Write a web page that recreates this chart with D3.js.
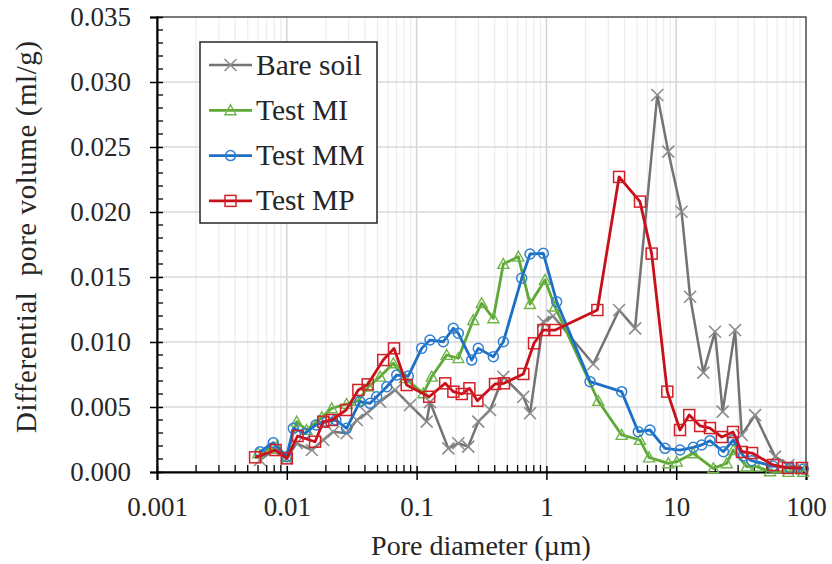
<!DOCTYPE html>
<html>
<head>
<meta charset="utf-8">
<script src="https://cdn.jsdelivr.net/npm/d3@7"></script>
<style>
  body { margin: 0; background: #fff; }
</style>
</head>
<body>
<svg id="chart" width="832" height="564"></svg>
<script>
// pore diameter (um) / differential pore volume (ml/g)
const bareDiam = [0.00622, 0.00787, 0.00998, 0.0119, 0.0156, 0.0191, 0.0228, 0.0289, 0.0346, 0.0413, 0.0523, 0.0682, 0.0890, 0.1196, 0.1268, 0.1756, 0.2096, 0.250, 0.2987, 0.368, 0.466, 0.664, 0.748, 0.947, 1.124, 2.30, 3.63, 4.82, 7.15, 8.69, 11.0, 12.8, 16.2, 19.9, 22.8, 28.4, 32.0, 40.5, 57.7, 73.1, 92.7];
const bareVol = [0.00092, 0.00169, 0.00105, 0.00221, 0.00169, 0.00246, 0.0031, 0.00298, 0.0040, 0.00452, 0.00541, 0.00631, 0.00515, 0.00387, 0.00538, 0.00182, 0.00221, 0.00195, 0.00387, 0.00477, 0.00733, 0.00579, 0.00452, 0.01156, 0.0120, 0.00831, 0.01246, 0.01105, 0.0290, 0.02464, 0.02002, 0.01348, 0.00764, 0.01079, 0.00464, 0.01092, 0.00285, 0.00438, 0.00118, 0.00054, 0.00028];

const miDiam = [0.00603, 0.00729, 0.00836, 0.00998, 0.0119, 0.0142, 0.0186, 0.0222, 0.0289, 0.0354, 0.0425, 0.0523, 0.0662, 0.0814, 0.1126, 0.1307, 0.1706, 0.2096, 0.2735, 0.3173, 0.390, 0.466, 0.608, 0.748, 0.975, 1.165, 2.51, 3.80, 5.26, 6.17, 8.69, 10.1, 13.55, 19.3, 24.5, 27.5, 34.9, 41.7, 52.8, 73.1, 95.3];
const miVol = [0.00144, 0.00177, 0.00195, 0.00118, 0.00387, 0.00323, 0.00421, 0.0049, 0.00523, 0.00546, 0.00656, 0.00733, 0.00836, 0.00721, 0.00605, 0.00733, 0.0090, 0.00875, 0.01169, 0.01298, 0.01182, 0.0160, 0.01656, 0.01292, 0.01477, 0.01272, 0.00546, 0.00285, 0.00246, 0.00112, 0.00067, 0.00079, 0.00144, 0.00028, 0.00067, 0.00169, 0.00041, 0.00041, 0.00005, 0.0, 0.0];

const mmDiam = [0.00622, 0.00787, 0.00998, 0.01122, 0.0138, 0.0168, 0.0203, 0.0239, 0.0289, 0.0366, 0.0438, 0.0493, 0.0589, 0.0703, 0.0863, 0.1094, 0.1268, 0.1606, 0.1918, 0.2096, 0.2657, 0.2987, 0.390, 0.466, 0.645, 0.748, 0.947, 1.20, 2.17, 3.80, 5.10, 6.28, 8.20, 10.7, 13.55, 15.7, 18.2, 23.1, 27.5, 32.9, 38.2, 55.7, 75.3, 95.3];
const mmVol = [0.00156, 0.00225, 0.00118, 0.00336, 0.00298, 0.00362, 0.00387, 0.0040, 0.00336, 0.00541, 0.00528, 0.00579, 0.00656, 0.00746, 0.00738, 0.00951, 0.01015, 0.01002, 0.01105, 0.01067, 0.00861, 0.00951, 0.00887, 0.01002, 0.0149, 0.01677, 0.01682, 0.0131, 0.00695, 0.00618, 0.0031, 0.00323, 0.00182, 0.00169, 0.0019, 0.00208, 0.00241, 0.00156, 0.00246, 0.00123, 0.00087, 0.00046, 0.00031, 0.00023];

const mpDiam = [0.0057, 0.0082, 0.0100, 0.0121, 0.0165, 0.0191, 0.0222, 0.0286, 0.0356, 0.0420, 0.0553, 0.0670, 0.0839, 0.125, 0.166, 0.192, 0.223, 0.255, 0.294, 0.402, 0.471, 0.664, 0.803, 0.947, 1.17, 2.47, 3.63, 5.26, 6.47, 8.54, 10.7, 12.6, 15.3, 18.2, 22.5, 27.4, 32.1, 38.4, 55.7, 72.6, 93.1];
const mpVol = [0.00113, 0.00169, 0.00105, 0.00277, 0.00233, 0.00387, 0.0040, 0.00477, 0.00631, 0.00674, 0.00861, 0.00951, 0.00669, 0.00579, 0.00682, 0.00618, 0.0060, 0.00644, 0.00548, 0.00677, 0.00682, 0.00754, 0.0099, 0.01092, 0.01092, 0.01246, 0.0227, 0.0208, 0.0168, 0.00618, 0.00323, 0.00438, 0.00354, 0.00338, 0.00269, 0.00308, 0.00154, 0.00146, 0.00054, 0.00031, 0.00031];

const seriesNames = ['Bare soil', 'Test MI', 'Test MM', 'Test MP'];
const xTickLabels = ['0.001', '0.01', '0.1', '1', '10', '100'];
const yTickLabels = ['0.000', '0.005', '0.010', '0.015', '0.020', '0.025', '0.030', '0.035'];

const serif = '"Liberation Serif", "Times New Roman", serif';

const series = [
    { name: seriesNames[0], diam: bareDiam, vol: bareVol, color: '#737373', mark: '#8c8c8c', shape: 'x', w: 2.5 },
    { name: seriesNames[1], diam: miDiam, vol: miVol, color: '#5ea936', mark: '#6fb44a', shape: 'tri', w: 2.8 },
    { name: seriesNames[2], diam: mmDiam, vol: mmVol, color: '#1c6fc6', mark: '#2f80d0', shape: 'circ', w: 2.8 },
    { name: seriesNames[3], diam: mpDiam, vol: mpVol, color: '#c8101a', mark: '#d22028', shape: 'sq', w: 2.8 }
];

const width = 832;
const height = 564;
const margin = { top: 17, right: 26, bottom: 92, left: 157 };
const svg = d3.select('#chart').attr('font-family', serif);

const xScale = d3.scaleLog()
    .domain([0.001, 100])
    .range([margin.left, width - margin.right]);

const yScale = d3.scaleLinear()
    .domain([0, 0.035])
    .range([height - margin.bottom, margin.top]);

const x0 = margin.left, x1 = width - margin.right;
const y0 = height - margin.bottom, y1 = margin.top;

// grid
const minorX = [];
for (let e = -3; e < 2; e++) {
    for (let m = 2; m <= 9; m++) minorX.push(m * Math.pow(10, e));
}
const majorX = xTickLabels.map(Number);
const majorY = yTickLabels.map(Number);

svg.append('g')
    .selectAll('line')
    .data(minorX)
    .enter().append('line')
    .attr('x1', d => xScale(d)).attr('x2', d => xScale(d))
    .attr('y1', y1).attr('y2', y0)
    .attr('stroke', '#ececec')
    .attr('stroke-width', 1.2);

svg.append('g')
    .selectAll('line')
    .data(majorX)
    .enter().append('line')
    .attr('x1', d => xScale(d)).attr('x2', d => xScale(d))
    .attr('y1', y1).attr('y2', y0)
    .attr('stroke', '#d4d4d4')
    .attr('stroke-width', 1.5);

svg.append('g')
    .selectAll('line')
    .data(majorY)
    .enter().append('line')
    .attr('x1', x0).attr('x2', x1)
    .attr('y1', d => yScale(d)).attr('y2', d => yScale(d))
    .attr('stroke', '#d9d9d9')
    .attr('stroke-width', 1.5);

// frame
svg.append('rect')
    .attr('x', x0).attr('y', y1)
    .attr('width', x1 - x0).attr('height', y0 - y1)
    .attr('fill', 'none')
    .attr('stroke', '#404040')
    .attr('stroke-width', 1.3);

// axes
const xAxis = g => g
    .attr('transform', `translate(0, ${y0})`)
    .call(d3.axisBottom(xScale).tickValues(majorX).tickFormat((d, i) => xTickLabels[i]).tickSize(8).tickPadding(17))
    .attr('font-family', serif)
    .call(g => g.select('.domain').attr('stroke', '#000').attr('stroke-width', 2))
    .call(g => g.selectAll('.tick line').attr('y1', -6).attr('stroke-width', 1.5))
    .call(g => g.selectAll('.tick text').attr('font-size', 27).attr('fill', '#262626'));

const yAxis = g => g
    .attr('transform', `translate(${x0}, 0)`)
    .call(d3.axisLeft(yScale).tickValues(majorY).tickFormat((d, i) => yTickLabels[i]).tickSize(7).tickPadding(21))
    .attr('font-family', serif)
    .call(g => g.select('.domain').attr('stroke', '#000').attr('stroke-width', 2))
    .call(g => g.selectAll('.tick line').attr('x2', 6).attr('x1', -7).attr('stroke-width', 1.5))
    .call(g => g.selectAll('.tick text').attr('font-size', 27).attr('fill', '#262626').attr('x', -26));

svg.append('g').call(xAxis);
svg.append('g').call(yAxis);

// minor ticks
svg.append('g')
    .selectAll('line')
    .data(minorX)
    .enter().append('line')
    .attr('x1', d => xScale(d)).attr('x2', d => xScale(d))
    .attr('y1', y0).attr('y2', y0 - 7)
    .attr('stroke', '#000').attr('stroke-width', 1.3);

const minorY = d3.range(1, 35).filter(i => i % 5 !== 0).map(i => i * 0.001);
svg.append('g')
    .selectAll('line')
    .data(minorY)
    .enter().append('line')
    .attr('x1', x0).attr('x2', x0 + 6)
    .attr('y1', d => yScale(d)).attr('y2', d => yScale(d))
    .attr('stroke', '#000').attr('stroke-width', 1.3);

// axis titles
svg.append('text')
    .attr('x', 481).attr('y', 555)
    .attr('text-anchor', 'middle')
    .attr('font-size', 28)
    .attr('fill', '#262626')
    .text('Pore diameter (\u00b5m)');

svg.append('text')
    .attr('transform', 'translate(36, 237) rotate(-90)')
    .attr('text-anchor', 'middle')
    .attr('font-size', 29)
    .attr('fill', '#262626')
    .attr('textLength', 392)
    .attr('lengthAdjust', 'spacing')
    .style('white-space', 'pre')
    .text('Differential  pore volume (ml/g)');

// markers
function drawMarker(g, shape, color, x, y) {
    if (shape === 'x') {
        const s = 6;
        g.append('path')
            .attr('d', `M${x - s},${y - s}L${x + s},${y + s}M${x - s},${y + s}L${x + s},${y - s}`)
            .attr('stroke', color).attr('stroke-width', 1.6).attr('fill', 'none');
    } else if (shape === 'tri') {
        const s = 5.5;
        g.append('path')
            .attr('d', `M${x},${y - s}L${x + s},${y + s * 0.8}L${x - s},${y + s * 0.8}Z`)
            .attr('stroke', color).attr('stroke-width', 1.4).attr('fill', 'none');
    } else if (shape === 'circ') {
        g.append('circle')
            .attr('cx', x).attr('cy', y).attr('r', 5)
            .attr('stroke', color).attr('stroke-width', 1.5).attr('fill', 'none');
    } else {
        const s = 5.5;
        g.append('rect')
            .attr('x', x - s).attr('y', y - s).attr('width', 2 * s).attr('height', 2 * s)
            .attr('stroke', color).attr('stroke-width', 1.5).attr('fill', 'none');
    }
}

const line = d3.line()
    .x(d => xScale(d[0]))
    .y(d => yScale(d[1]));

series.forEach(s => {
    const pts = s.diam.map((d, i) => [d, s.vol[i]]);
    const g = svg.append('g');
    g.append('path')
        .datum(pts)
        .attr('d', line)
        .attr('fill', 'none')
        .attr('stroke', s.color)
        .attr('stroke-width', s.w)
        .attr('stroke-linejoin', 'round');
    pts.forEach(p => drawMarker(g, s.shape, s.mark, xScale(p[0]), yScale(p[1])));
});

// legend
const legend = svg.append('g').attr('transform', 'translate(200, 42)');
legend.append('rect')
    .attr('x', 0).attr('y', 0)
    .attr('width', 177).attr('height', 181)
    .attr('fill', '#fff')
    .attr('stroke', '#262626')
    .attr('stroke-width', 1.5);

series.forEach((s, i) => {
    const cy = 23 + i * 45.3;
    legend.append('line')
        .attr('x1', 9).attr('x2', 52)
        .attr('y1', cy).attr('y2', cy)
        .attr('stroke', s.color).attr('stroke-width', s.w);
    drawMarker(legend, s.shape, s.mark, 30.5, cy);
    legend.append('text')
        .attr('x', 56).attr('y', cy + 9.5)
        .attr('font-size', 29.5)
        .attr('fill', '#262626')
        .text(s.name);
});
</script>
</body>
</html>
